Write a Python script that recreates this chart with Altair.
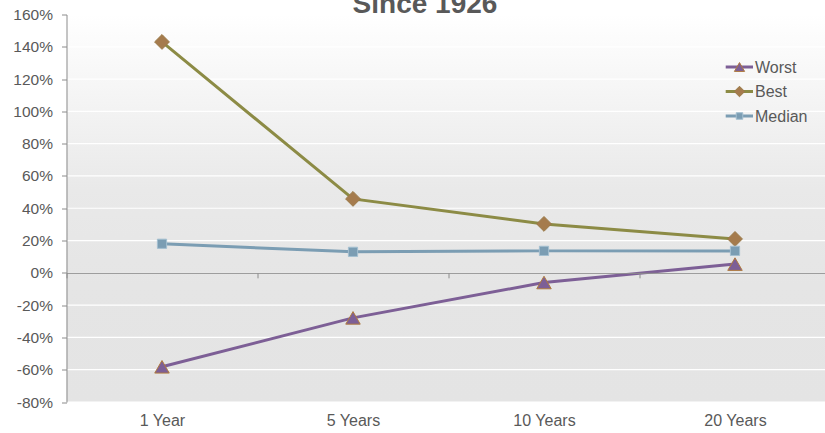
import altair as alt
import pandas as pd

# Rolling-period returns (%), by holding period
periods = ["1 Year", "5 Years", "10 Years", "20 Years"]
worst = [-58.2, -27.9, -6.0, 5.4]
best = [143.0, 45.8, 30.3, 21.0]
median = [18.0, 13.0, 13.6, 13.6]

series_names = ["Worst", "Best", "Median"]
y_ticks = [-80, -60, -40, -20, 0, 20, 40, 60, 80, 100, 120, 140, 160]

line_colors = ["#7d5f96", "#8c8b45", "#7b9db3"]
marker_fills = ["#7d5f96", "#a57b4d", "#7b9db3"]
marker_strokes = ["#b07a3e", "#9a7a48", "#a3bfd0"]
marker_shapes = ["triangle-up", "diamond", "square"]
marker_sizes = [210, 220, 85]

rows = []
for name, vals in zip(series_names, [worst, best, median]):
    for p, v in zip(periods, vals):
        rows.append({"period": p, "series": name, "value": v})
df = pd.DataFrame(rows)

W, H = 758.5, 387.5
FONT = "Liberation Sans"
TEXT_GRAY = "#595959"

x_scale = alt.Scale(domain=periods, range=[0, 764], paddingInner=0, paddingOuter=0)
x_enc = alt.X(
    "period:N",
    sort=periods,
    title=None,
    scale=x_scale,
    axis=alt.Axis(
        orient="bottom",
        offset=-(H * 80 / 240),
        tickBand="extent",
        tickSize=5,
        tickColor="#8c8c8c",
        domainColor="#8c8c8c",
        labelPadding=134.5,
        labelAngle=0,
        labelFont=FONT,
        labelFontSize=16,
        labelColor=TEXT_GRAY,
        grid=False,
        zindex=1,
    ),
)
y_scale = alt.Scale(domain=[-80, 160], nice=False, zero=False)
y_axis = alt.Axis(
    values=y_ticks,
    labelExpr="datum.value + '%'",
    tickSize=5,
    tickColor="#8c8c8c",
    domainColor="#8c8c8c",
    labelPadding=9,
    labelFont=FONT,
    labelFontSize=15.5,
    labelColor=TEXT_GRAY,
    grid=False,
    zindex=1,
)
y_enc = alt.Y("value:Q", title=None, scale=y_scale, axis=y_axis)

# Plot-area background: light at the top, fading to grey
background = alt.Chart(pd.DataFrame({"k": [0]})).mark_rect(
    color=alt.LinearGradient(
        gradient="linear",
        stops=[
            alt.GradientStop(offset=0, color="#ffffff"),
            alt.GradientStop(offset=0.08, color="#fbfbfb"),
            alt.GradientStop(offset=0.45, color="#e9e9e9"),
            alt.GradientStop(offset=0.7, color="#e5e5e5"),
            alt.GradientStop(offset=1, color="#e4e4e4"),
        ],
        x1=0, x2=0, y1=0, y2=1,
    )
).encode(x=alt.value(0), x2=alt.value(W), y=alt.value(0), y2=alt.value(H))

# Horizontal white gridlines
grid = alt.Chart(pd.DataFrame({"value": y_ticks})).mark_rule(
    color="#ffffff", strokeWidth=1.2
).encode(y=y_enc)

lines = alt.Chart(df).mark_line(strokeWidth=3).encode(
    x=x_enc,
    y=y_enc,
    color=alt.Color("series:N", scale=alt.Scale(domain=series_names, range=line_colors), legend=None),
    detail="series:N",
)

# One marker layer per series, each with its own symbol
point_layers = []
for i, name in enumerate(series_names):
    point_layers.append(
        alt.Chart(df).transform_filter(alt.datum.series == name).mark_point(
            filled=True, opacity=1, shape=marker_shapes[i], size=marker_sizes[i],
            fill=marker_fills[i], stroke=marker_strokes[i], strokeWidth=1,
        ).encode(x=x_enc, y=y_enc)
    )

title = alt.Chart(pd.DataFrame({"t": ["Since 1926"]})).mark_text(
    font=FONT, fontSize=28, fontWeight="bold", color=TEXT_GRAY, baseline="alphabetic", align="center"
).encode(text="t:N", x=alt.value(358.5), y=alt.value(-1.5))

# Legend entries: line + marker + label
legend_layers = []
legend_y = [52.5, 77, 101.5]
for i, name in enumerate(series_names):
    src = pd.DataFrame({"series": [name]})
    ly = legend_y[i]
    legend_layers.append(
        alt.Chart(src).mark_rule(color=line_colors[i], strokeWidth=3).encode(
            x=alt.value(659.2), x2=alt.value(686.5), y=alt.value(ly)
        )
    )
    legend_layers.append(
        alt.Chart(src).mark_point(
            filled=True, opacity=1, shape=marker_shapes[i], size=marker_sizes[i] * 0.5,
            fill=marker_fills[i], stroke=marker_strokes[i], strokeWidth=1,
        ).encode(x=alt.value(673), y=alt.value(ly))
    )
    legend_layers.append(
        alt.Chart(src).mark_text(
            font=FONT, fontSize=16, color=TEXT_GRAY, align="left", baseline="middle"
        ).encode(text="series:N", x=alt.value(688.5), y=alt.value(ly + 0.5))
    )

chart = alt.layer(background, grid, lines, *point_layers, title, *legend_layers).properties(
    width=W,
    height=H,
    autosize=alt.AutoSizeParams(type="none"),
    padding={"left": 66.5, "top": 14.5, "right": 0, "bottom": 31},
    background="#ffffff",
).configure_view(stroke=None)

chart.save("out.html", embed_options={"renderer": "svg", "actions": False})
